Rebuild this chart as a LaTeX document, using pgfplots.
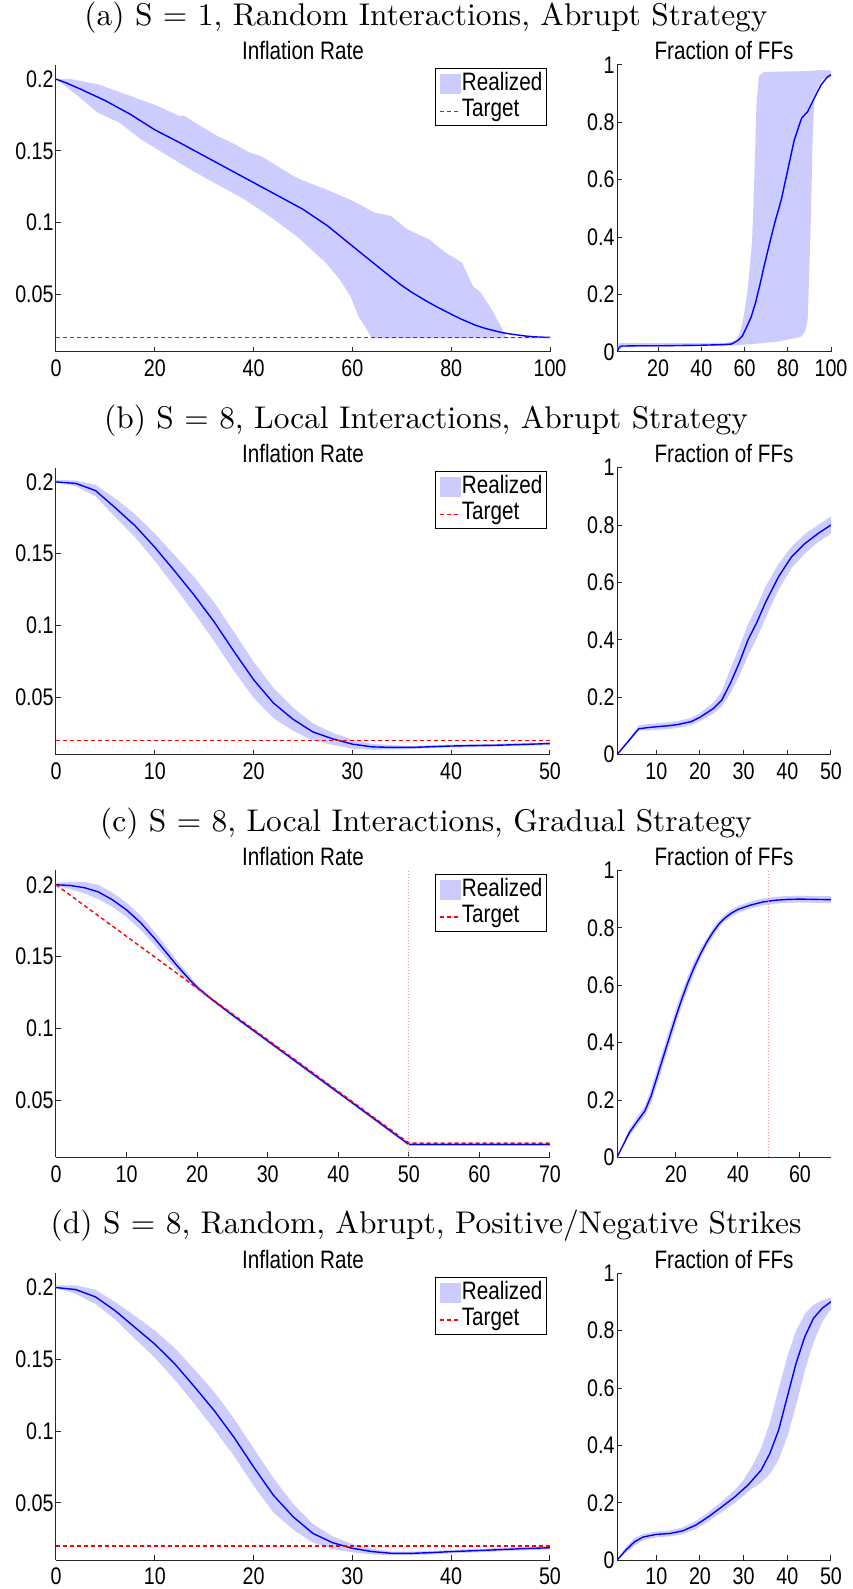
\documentclass[border=0pt]{standalone}
\usepackage{fontspec}
\usepackage{pgfplots}
\pgfplotsset{compat=1.18}
\newfontfamily\mlfont[FakeStretch=0.82]{Liberation Sans}
\newfontfamily\ttlfam{lmroman10-regular}[Extension=.otf]
\definecolor{band}{RGB}{204,204,255}
\definecolor{axgray}{RGB}{40,40,40}
\definecolor{vlcol}{RGB}{255,140,140}
\newcommand\tickfont{\mlfont\fontsize{12}{14}\selectfont}
\newcommand\labfont{\mlfont\fontsize{12.6}{15}\selectfont}
\newcommand\ttlfont{\ttlfam\fontsize{15.7}{18}\selectfont}
\pgfplotsset{
 ml/.style={scale only axis, height=143.5pt, enlargelimits=false,
   axis x line*=bottom, axis y line*=left, tick align=inside,
   major tick length=2.5pt,
   axis line style={axgray, line width=0.5pt},
   tick style={axgray, line width=0.5pt},
   tick label style={font=\tickfont},
   /pgf/number format/assume math mode=true,
   yticklabel style={inner sep=0pt, anchor=east, xshift=-1pt},
   xticklabel style={inner sep=0pt, anchor=north, yshift=-3.8pt}},
 infl/.style={ml, width=247pt, ymin=0.01, ymax=0.21, ytick={0.05,0.1,0.15,0.2},
   yticklabels={0.05,0.1,0.15,0.2},
   legend style={at={(1,1)}, anchor=north east, xshift=-1.4pt, yshift=-1.75pt,
     draw=black, line width=0.5pt, font=\labfont, inner xsep=2.2pt, inner ysep=2pt,
     row sep=1.5pt, nodes={inner sep=0pt, text height=9pt, text depth=2.5pt},
     /tikz/every even column/.append style={column sep=0.8pt}},
   legend cell align=left},
 frac/.style={ml, width=107pt, ymin=0, ymax=1, ytick={0,0.2,0.4,0.6,0.8,1},
   yticklabels={0,0.2,0.4,0.6,0.8,1}},
 bandst/.style={fill=band, draw=none,
   legend image code/.code={\fill[band] (0pt,-5pt) rectangle (10.35pt,5pt);}},
 meanst/.style={blue, line width=0.7pt, forget plot},
 tgtst/.style={red, line width=0.7pt, dash pattern=on 2pt off 1.5pt,
   legend image code/.code={\draw[red, line width=0.7pt, dash pattern=on 2pt off 1.5pt] (0pt,-0.6pt) -- (10.35pt,-0.6pt);}},
 vlst/.style={forget plot, vlcol, line width=0.5pt, dash pattern=on 0.5pt off 1pt},
}
\begin{document}
\begin{tikzpicture}
\path[use as bounding box] (0,0) rectangle (426pt,-794.5pt);
% ---------------- (a)
\node[font=\ttlfont] at (213pt,-8.8pt) {(a) S = 1, Random Interactions, Abrupt Strategy};
\node[font=\labfont] at (151.5pt,-25.4pt) {Inflation Rate};
\node[font=\labfont] at (362pt,-25.4pt) {Fraction of FFs};
\begin{axis}[infl, at={(28pt,-175.9pt)}, anchor=south west, xmin=0, xmax=100, xtick={0,20,40,60,80,100}]
\addplot[bandst] coordinates {(0,0.2) (3,0.2) (8.4,0.1965) (15,0.1884) (20.5,0.1814) (24.9,0.1744) (26,0.1745) (28,0.170) (32.6,0.1605) (36,0.155) (39.2,0.1488) (41.4,0.1465) (45,0.139) (48,0.1326) (50.2,0.129) (54.6,0.1233) (60.1,0.1151) (64.5,0.107) (67.8,0.1047) (71.1,0.0953) (75.5,0.0884) (78.9,0.079) (82.2,0.0721) (84.4,0.0558) (86,0.0512) (88.2,0.0395) (90.4,0.0256) (91.2,0.02) (100,0.02)
 (100,0.0193) (64,0.0193) (62.9,0.0256) (61.2,0.0349) (59.6,0.0488) (57.4,0.0605) (54.6,0.0721) (49.1,0.0895) (43.6,0.1035) (38.1,0.1163) (32.6,0.1267) (27.1,0.1372) (22.7,0.1465) (17.2,0.1581) (12.8,0.1698) (8.4,0.1767) (4,0.1895) (0,0.2)} --cycle;
\addlegendentry{Realized}
\addplot[meanst] coordinates {(0,0.2) (2,0.1975) (5,0.193) (10,0.185) (15,0.1756) (20,0.1647) (25,0.1558) (30,0.1465) (35,0.1372) (40,0.1279) (45,0.1186) (50,0.1093) (55,0.0977) (60,0.0837) (65,0.0698) (68,0.0615) (70,0.0562) (72,0.0515) (75,0.0453) (77,0.0415) (80,0.0362) (82,0.0328) (85,0.0284) (87,0.0262) (90,0.0236) (92,0.0224) (95,0.021) (97,0.0204) (100,0.02)};
\addplot[tgtst] coordinates {(0,0.02) (100,0.02)};
\addlegendentry{Target}
\end{axis}
\begin{axis}[frac, at={(308.5pt,-175.9pt)}, anchor=south west, xmin=1, xmax=100, xtick={20,40,60,80,100}]
\addplot[bandst, forget plot] coordinates {(1,0) (1.5,0.025) (2,0.03) (20,0.03) (40,0.03) (52,0.032) (56,0.04) (58,0.07) (59.5,0.12) (61.2,0.2) (62.5,0.3) (63.5,0.39) (64.5,0.6) (65.5,0.855) (66.6,0.96) (68.9,0.975) (80,0.977) (90,0.978) (95,0.982) (100,0.98)
 (100,0.955) (96,0.95) (93.9,0.92) (92.3,0.88) (91.5,0.74) (90.8,0.5) (90.4,0.39) (89.6,0.2) (89.2,0.11) (88,0.07) (86,0.052) (75,0.035) (65,0.028) (60,0.025) (50,0.02) (20,0.018) (3,0.015) (1,0)} --cycle;
\addplot[meanst] coordinates {(1,0) (2,0.015) (3,0.02) (10,0.021) (20,0.021) (30,0.022) (40,0.023) (50,0.025) (54,0.027) (57,0.04) (59,0.055) (61,0.087) (63,0.12) (65,0.169) (67,0.23) (69,0.297) (72,0.39) (74,0.45) (77,0.53) (80,0.634) (83,0.738) (86.4,0.814) (89.2,0.837) (92.3,0.884) (95.4,0.93) (98.5,0.959) (100,0.965)};
\end{axis}
% ---------------- (b)
\node[font=\ttlfont] at (213pt,-210.2pt) {(b) S = 8, Local Interactions, Abrupt Strategy};
\node[font=\labfont] at (151.5pt,-226.8pt) {Inflation Rate};
\node[font=\labfont] at (362pt,-226.8pt) {Fraction of FFs};
\begin{axis}[infl, at={(28pt,-377.3pt)}, anchor=south west, xmin=0, xmax=50, xtick={0,10,20,30,40,50}]
\addplot[bandst] coordinates {(0,0.2015) (2,0.201) (4,0.198) (6,0.1885) (8,0.1775) (10,0.164) (12,0.149) (14,0.1335) (16,0.1161) (18,0.0955) (20,0.0747) (22,0.0565) (24,0.0426) (26,0.0318) (28,0.0252) (30,0.0205) (32,0.0175) (34,0.0165) (36,0.016) (40,0.017) (45,0.0176) (50,0.0187)
 (50,0.0167) (45,0.0156) (40,0.015) (36,0.014) (34,0.0135) (32,0.0133) (30,0.0141) (28,0.0168) (26,0.0198) (24,0.0266) (22,0.0355) (20,0.0497) (18,0.0685) (16,0.0891) (14,0.1085) (12,0.127) (10,0.145) (8,0.1615) (6,0.1755) (4,0.190) (2,0.197) (0,0.1995)} --cycle;
\addlegendentry{Realized}
\addplot[meanst] coordinates {(0,0.2) (2,0.199) (4,0.194) (6,0.182) (8,0.1695) (10,0.1545) (12,0.138) (14,0.121) (16,0.1026) (18,0.082) (20,0.0622) (22,0.046) (24,0.0346) (26,0.0258) (28,0.021) (30,0.0173) (32,0.0154) (34,0.015) (36,0.015) (40,0.016) (45,0.0166) (50,0.0177)};
\addplot[tgtst] coordinates {(0,0.02) (50,0.02)};
\addlegendentry{Target}
\end{axis}
\begin{axis}[frac, at={(308.5pt,-377.3pt)}, anchor=south west, xmin=1, xmax=50, xtick={10,20,30,40,50}]
\addplot[bandst, forget plot] coordinates {(1,0) (3,0.04) (6,0.102) (8,0.106) (10,0.109) (13,0.113) (15,0.117) (18,0.128) (20,0.145) (23,0.18) (25,0.22) (27,0.30) (29,0.375) (31,0.455) (33,0.515) (35,0.585) (38,0.665) (41,0.725) (44,0.768) (47,0.80) (50,0.83)
 (50,0.77) (47,0.74) (44,0.70) (41,0.65) (38,0.575) (35,0.475) (33,0.405) (31,0.345) (29,0.275) (27,0.215) (25,0.168) (23,0.142) (20,0.117) (18,0.103) (15,0.093) (13,0.089) (10,0.086) (8,0.084) (6,0.085) (3,0.032) (1,0)} --cycle;
\addplot[meanst] coordinates {(1,0) (3,0.036) (5,0.072) (6,0.09) (8,0.094) (10,0.097) (13,0.101) (15,0.105) (18,0.115) (20,0.13) (23,0.16) (25,0.19) (27,0.25) (29,0.32) (31,0.4) (33,0.46) (35,0.53) (38,0.62) (41,0.69) (44,0.735) (47,0.77) (50,0.80)};
\end{axis}
% ---------------- (c)
\node[font=\ttlfont] at (213pt,-411.6pt) {(c) S = 8, Local Interactions, Gradual Strategy};
\node[font=\labfont] at (151.5pt,-428.2pt) {Inflation Rate};
\node[font=\labfont] at (362pt,-428.2pt) {Fraction of FFs};
\begin{axis}[infl, at={(28pt,-578.7pt)}, anchor=south west, xmin=0, xmax=70, xtick={0,10,20,30,40,50,60,70}]
\addplot[bandst] coordinates {(0,0.2015) (2,0.202) (4,0.202) (6,0.200) (8,0.1945) (10,0.1875) (12,0.1785) (14,0.167) (16,0.1545) (18,0.142) (20,0.1305) (22,0.1216) (25,0.1104) (30,0.0924) (35,0.0744) (40,0.0564) (45,0.0384) (50,0.0204) (52,0.0200) (60,0.0200) (70,0.0200)
 (70,0.018) (60,0.018) (52,0.018) (50,0.018) (45,0.036) (40,0.054) (35,0.072) (30,0.09) (25,0.108) (22,0.1192) (20,0.1265) (18,0.136) (16,0.1465) (14,0.158) (12,0.1685) (10,0.1775) (8,0.1845) (6,0.190) (4,0.194) (2,0.197) (0,0.1995)} --cycle;
\addlegendentry{Realized}
\addplot[meanst] coordinates {(0,0.2) (2,0.1995) (4,0.198) (6,0.195) (8,0.1895) (10,0.1825) (12,0.1735) (14,0.1625) (16,0.1505) (17,0.1445) (18,0.139) (19,0.1335) (20,0.1285) (22,0.1204) (25,0.1092) (30,0.0912) (35,0.0732) (40,0.0552) (45,0.0372) (50,0.019) (52,0.019) (60,0.019) (70,0.019)};
\addplot[tgtst] coordinates {(0,0.2) (50,0.02) (70,0.02)};
\addlegendentry{Target}
\addplot[vlst] coordinates {(50,0.01) (50,0.21)};
\end{axis}
\begin{axis}[frac, at={(308.5pt,-578.7pt)}, anchor=south west, xmin=1, xmax=70, xtick={20,40,60}]
\addplot[bandst, forget plot] coordinates {(1,0) (5,0.10) (8,0.15) (10,0.18) (12,0.24) (14,0.31) (16,0.38) (18,0.45) (20,0.518) (22,0.58) (24,0.636) (26,0.685) (28,0.728) (30,0.766) (32,0.80) (34,0.827) (36,0.848) (38,0.864) (40,0.876) (44,0.891) (48,0.902) (52,0.908) (56,0.911) (60,0.912) (65,0.911) (70,0.91)
 (70,0.886) (65,0.887) (60,0.888) (56,0.887) (52,0.884) (48,0.878) (44,0.867) (40,0.852) (38,0.84) (36,0.824) (34,0.803) (32,0.772) (30,0.736) (28,0.694) (26,0.645) (24,0.59) (22,0.53) (20,0.465) (18,0.395) (16,0.325) (14,0.255) (12,0.19) (10,0.145) (8,0.118) (5,0.075) (1,0)} --cycle;
\addplot[meanst] coordinates {(1,0) (5,0.087) (8,0.133) (10,0.162) (12,0.214) (14,0.283) (16,0.353) (18,0.422) (20,0.491) (22,0.555) (24,0.613) (26,0.665) (28,0.711) (30,0.751) (32,0.786) (34,0.815) (36,0.836) (38,0.852) (40,0.864) (44,0.879) (48,0.89) (52,0.896) (56,0.899) (60,0.90) (65,0.899) (70,0.898)};
\addplot[vlst] coordinates {(50,0) (50,1)};
\end{axis}
% ---------------- (d)
\node[font=\ttlfont] at (213pt,-613pt) {(d) S = 8, Random, Abrupt, Positive/Negative Strikes};
\node[font=\labfont] at (151.5pt,-629.6pt) {Inflation Rate};
\node[font=\labfont] at (362pt,-629.6pt) {Fraction of FFs};
\begin{axis}[infl, at={(28pt,-780.1pt)}, anchor=south west, xmin=0, xmax=50, xtick={0,10,20,30,40,50}]
\addplot[bandst] coordinates {(0,0.2015) (2,0.2016) (4,0.1985) (6,0.1898) (8,0.1802) (10,0.1701) (12,0.158) (14,0.143) (16,0.1274) (18,0.1088) (20,0.088) (22,0.0673) (24,0.0493) (26,0.0352) (28,0.0267) (30,0.0212) (32,0.018) (34,0.016) (36,0.016) (38,0.0165) (40,0.0172) (44,0.0183) (47,0.0192) (50,0.0199)
 (50,0.0175) (47,0.0168) (44,0.0159) (40,0.0148) (38,0.0141) (36,0.0136) (34,0.0136) (32,0.014) (30,0.0155) (28,0.0177) (26,0.0222) (24,0.0313) (22,0.0433) (20,0.062) (18,0.0828) (16,0.1014) (14,0.119) (12,0.136) (10,0.1511) (8,0.1642) (6,0.1778) (4,0.1885) (2,0.1956) (0,0.1995)} --cycle;
\addlegendentry{Realized}
\addplot[meanst] coordinates {(0,0.2) (2,0.1986) (4,0.1935) (6,0.1838) (8,0.1722) (10,0.1606) (12,0.147) (14,0.131) (16,0.1144) (18,0.0958) (20,0.075) (22,0.0553) (24,0.0403) (26,0.0287) (28,0.0222) (30,0.0183) (32,0.016) (34,0.0148) (36,0.0148) (38,0.0153) (40,0.016) (44,0.0171) (47,0.018) (50,0.0187)};
\addplot[tgtst] coordinates {(0,0.02) (50,0.02)};
\addlegendentry{Target}
\end{axis}
\begin{axis}[frac, at={(308.5pt,-780.1pt)}, anchor=south west, xmin=1, xmax=50, xtick={10,20,30,40,50}]
\addplot[bandst, forget plot] coordinates {(1,0) (3,0.045) (5,0.078) (7,0.092) (10,0.1) (13,0.104) (16,0.114) (19,0.136) (22,0.168) (25,0.205) (28,0.245) (30,0.28) (32,0.33) (34,0.39) (36,0.48) (38,0.597) (40,0.71) (42,0.80) (44,0.858) (46,0.89) (48,0.905) (50,0.915)
 (50,0.875) (48,0.83) (46,0.76) (44,0.66) (42,0.54) (40,0.43) (38,0.35) (36,0.30) (34,0.27) (32,0.25) (30,0.225) (28,0.2) (25,0.168) (22,0.136) (19,0.108) (16,0.09) (13,0.083) (10,0.08) (7,0.07) (5,0.05) (3,0.025) (1,0)} --cycle;
\addplot[meanst] coordinates {(1,0) (3,0.035) (5,0.064) (7,0.081) (10,0.09) (13,0.093) (16,0.102) (19,0.122) (22,0.152) (25,0.186) (28,0.221) (31,0.262) (34,0.314) (36,0.372) (38,0.453) (40,0.57) (42,0.686) (44,0.779) (46,0.843) (48,0.878) (50,0.901)};
\end{axis}
\end{tikzpicture}
\end{document}
